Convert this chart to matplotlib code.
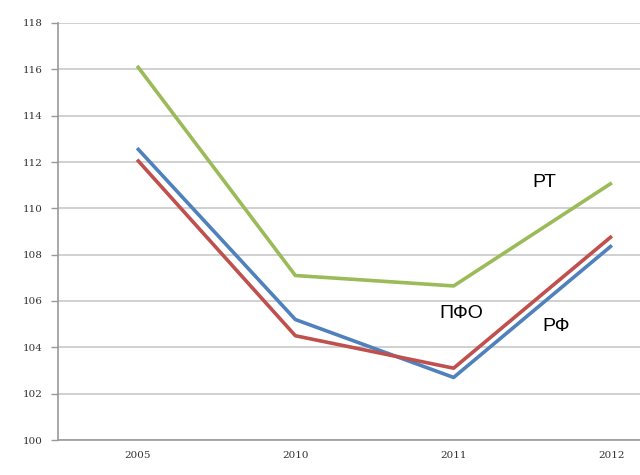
import matplotlib
matplotlib.use("Agg")
import matplotlib.pyplot as plt

years = ["2005", "2010", "2011", "2012"]
rt = [116.15, 107.1, 106.65, 111.1]
pfo = [112.1, 104.5, 103.1, 108.8]
rf = [112.6, 105.2, 102.7, 108.4]
yticks = [100, 102, 104, 106, 108, 110, 112, 114, 116, 118]

fig = plt.figure(figsize=(6.4, 4.75), dpi=100)
ax = fig.add_axes([58/640, 35/475, 633/640, 417/475])
x = range(len(years))
ax.plot(x, rt, color="#9BBB59", lw=2.6, solid_capstyle="butt")
ax.plot(x, rf, color="#4F81BD", lw=2.6, solid_capstyle="butt")
ax.plot(x, pfo, color="#C0504D", lw=2.6, solid_capstyle="butt")

ax.set_xlim(-0.5, 3.5)
ax.set_ylim(100, 118)
ax.set_yticks(yticks)
ax.set_yticklabels([str(v) for v in yticks], fontsize=7.5, color="#333333", family="DejaVu Serif")
ax.set_xticks(list(x))
ax.set_xticklabels(years, fontsize=7.5, color="#333333", family="DejaVu Serif")
ax.tick_params(axis="x", length=0, pad=8)
ax.tick_params(axis="y", length=5, color="#999999", width=1, pad=6)
ax.grid(axis="y", color="#C8C8C8", lw=1.2)
ax.set_axisbelow(True)
for s in ["top", "right"]:
    ax.spines[s].set_visible(False)
ax.spines["left"].set_color("#999999")
ax.spines["bottom"].set_color("#999999")
ax.spines["left"].set_linewidth(1.2)
ax.spines["bottom"].set_linewidth(1.2)

ax.text(2.5, 111.1, "РТ", fontsize=14, family="Liberation Sans", ha="left", va="center")
ax.text(2.05, 105.45, "ПФО", fontsize=14, family="Liberation Sans", ha="center", va="center")
ax.text(2.65, 104.9, "РФ", fontsize=14, family="Liberation Sans", ha="center", va="center")

fig.savefig("out.png", dpi=100)
